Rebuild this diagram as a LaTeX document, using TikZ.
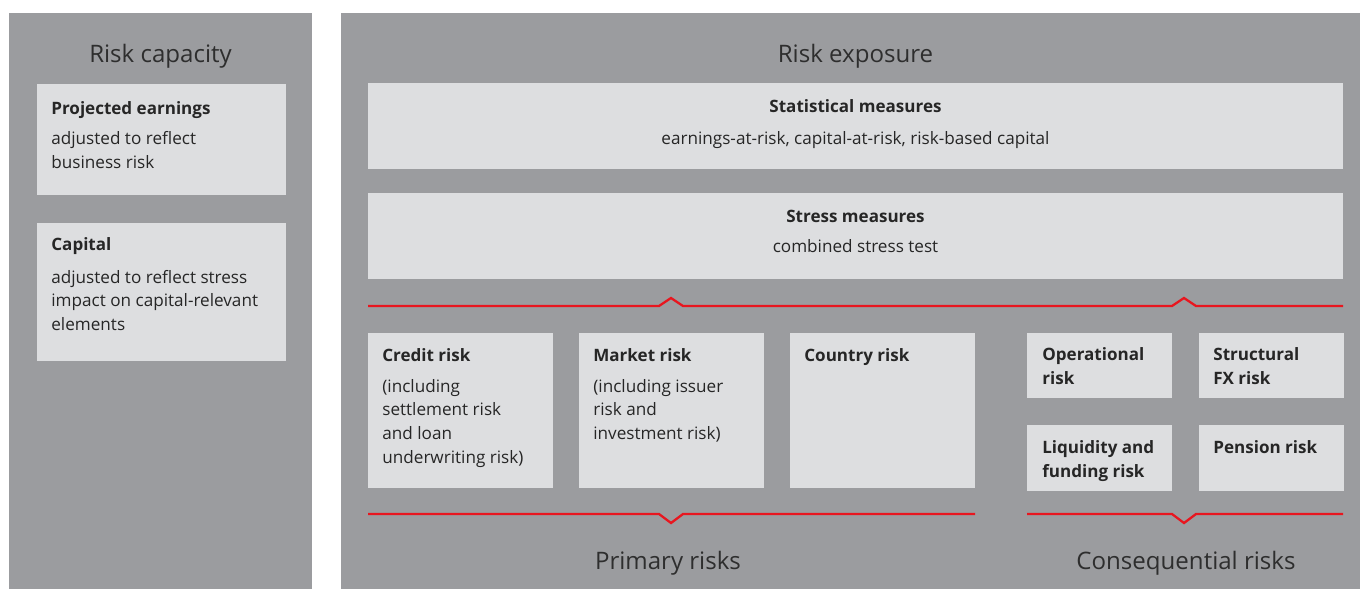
\documentclass[tikz,border=0pt]{standalone}
\usepackage{fontspec}
\setmainfont{Open Sans}
\usetikzlibrary{positioning}

\definecolor{panelgray}{HTML}{9B9C9F}
\definecolor{boxgray}{HTML}{DDDEE0}
\definecolor{inkgray}{HTML}{262626}
\definecolor{titlegray}{HTML}{2E2E2E}
\definecolor{riskred}{HTML}{E8161F}

\tikzset{
  panel/.style={fill=panelgray, anchor=north west, inner sep=0pt, outer sep=0pt},
  box/.style={fill=boxgray, anchor=north west, inner sep=0pt, outer sep=0pt},
  title/.style={text=titlegray, anchor=base, inner sep=0pt, font=\fontsize{13.7}{16}\selectfont},
  head/.style={text=inkgray, anchor=base west, inner sep=0pt, align=left, font=\bfseries\fontsize{9.7}{13.6}\selectfont},
  body/.style={text=inkgray, anchor=base west, inner sep=0pt, align=left, font=\fontsize{9.75}{13.5}\selectfont},
  bracket/.style={draw=riskred, line width=1.3pt},
}

\begin{document}
\begin{tikzpicture}[x=0.02cm, y=-0.02cm]
        \useasboundingbox (0,0) rectangle (1360,589);
        % panels
        \node[panel, minimum width=6.06cm, minimum height=11.52cm] (capacity) at (9,13) {};
        \node[panel, minimum width=20.38cm, minimum height=11.52cm] (exposure) at (341,13) {};
        \node[title] (capt) at (160.5,62) {Risk capacity};
        \node[title] (expt) at (855.5,62) {Risk exposure};
        % risk capacity (multi-line texts sit on their last baseline)
        \node[box, minimum width=4.98cm, minimum height=2.22cm] (earnings) at (37,84) {};
        \node[box, minimum width=4.98cm, minimum height=2.76cm] (capital) at (37,223) {};
        \node[head] (earningsh) at (51,114) {Projected earnings};
        \node[body] (earningsb) at (51,168) {adjusted to reflect\\business risk};
        \node[head] (capitalh) at (51,250) {Capital};
        \node[body] (capitalb) at (51,330.6) {adjusted to reflect stress\\impact on capital-relevant\\elements};
        % measures
        \node[box, minimum width=19.5cm, minimum height=1.72cm] (stat) at (368,83) {};
        \node[box, minimum width=19.5cm, minimum height=1.72cm] (stress) at (368,193) {};
        \node[head, anchor=base] (stath) at (855.5,112) {Statistical measures};
        \node[body, anchor=base] (statb) at (855.5,144) {earnings-at-risk, capital-at-risk, risk-based capital};
        \node[head, anchor=base] (stressh) at (855.5,222) {Stress measures};
        \node[body, anchor=base] (stressb) at (855.5,252) {combined stress test};
        % primary risks
        \node[box, minimum width=3.7cm, minimum height=3.1cm] (credit) at (368,333) {};
        \node[box, minimum width=3.7cm, minimum height=3.1cm] (market) at (579,333) {};
        \node[box, minimum width=3.7cm, minimum height=3.1cm] (country) at (790,333) {};
        \node[head] (credith) at (382,361) {Credit risk};
        \node[body] (creditb) at (382,463.4) {(including\\settlement risk\\and loan\\underwriting risk)};
        \node[head] (marketh) at (593,361) {Market risk};
        \node[body] (marketb) at (593,439.6) {(including issuer\\risk and\\investment risk)};
        \node[head] (countryh) at (804,361) {Country risk};
        % consequential risks
        \node[box, minimum width=2.9cm, minimum height=1.3cm] (oper) at (1027,333) {};
        \node[box, minimum width=2.9cm, minimum height=1.3cm] (fx) at (1199,333) {};
        \node[box, minimum width=2.9cm, minimum height=1.32cm] (liquid) at (1027,425) {};
        \node[box, minimum width=2.9cm, minimum height=1.32cm] (pension) at (1199,425) {};
        \node[head] (operh) at (1042,384) {Operational\\risk};
        \node[head] (fxh) at (1213,384) {Structural\\FX risk};
        \node[head] (liquidh) at (1042,477) {Liquidity and\\funding risk};
        \node[head] (pensionh) at (1213,453) {Pension risk};
        % brackets
        \draw[bracket] (368,306) -- (659,306) -- (671,298) -- (683,306) -- (1172,306)
            -- (1184,298) -- (1196,306) -- (1343,306);
        \draw[bracket] (368,514) -- (659,514) -- (671,523) -- (683,514) -- (975,514);
        \draw[bracket] (1027,514) -- (1172,514) -- (1184,523) -- (1196,514) -- (1343,514);
        \node[title] (primt) at (668,569) {Primary risks};
        \node[title] (const) at (1186,569) {Consequential risks};
    \end{tikzpicture}
\end{document}
